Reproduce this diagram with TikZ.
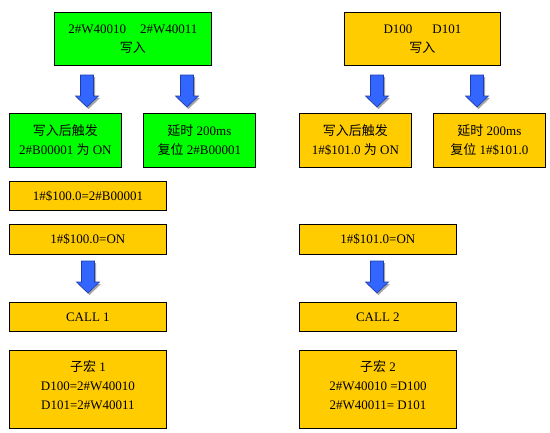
\documentclass[tikz,border=0pt]{standalone}
\usepackage{fontspec}
\setmainfont{Liberation Serif}
\newfontfamily\cjk{Noto Sans CJK SC}
\definecolor{boxgreen}{RGB}{0,255,0}
\definecolor{boxyellow}{RGB}{255,204,0}
\definecolor{arrowblue}{RGB}{51,102,255}
\definecolor{arrowedge}{RGB}{30,60,170}
\begin{document}
\begin{tikzpicture}[x=1pt,y=-1pt,
  box/.style={draw=black, line width=0.8pt, anchor=north west, inner sep=0pt,
    align=center, font=\fontsize{13}{19}\selectfont},
  gbox/.style={box, fill=boxgreen},
  ybox/.style={box, fill=boxyellow},
  barrow/.pic={
    \fill[black!35] (-5,2) -- (8,2) -- (8,23) -- (13,23) -- (1.5,34) -- (-10,23) -- (-5,23) -- cycle;
    \draw[draw=arrowedge, fill=arrowblue, line width=0.6pt]
      (-6.5,0) -- (6.5,0) -- (6.5,21) -- (11.5,21) -- (0,32) -- (-11.5,21) -- (-6.5,21) -- cycle;
  }]
\useasboundingbox (0,0) rectangle (550,432);
\fill[white] (0,0) rectangle (550,432);

% top boxes
\node[gbox, minimum width=157pt, minimum height=53pt] (A) at (54,12)
  {2\#W40010\hspace{14pt}2\#W40011\\{\cjk 写入}};
\node[ybox, minimum width=156pt, minimum height=53pt] (B) at (344,12)
  {D100\hspace{20pt}D101\\{\cjk 写入}};

% second row
\node[gbox, minimum width=112pt, minimum height=54pt] (C) at (9,113)
  {{\cjk 写入后触发}\\2\#B00001 {\cjk 为} ON};
\node[gbox, minimum width=112pt, minimum height=54pt] (D) at (143,113)
  {{\cjk 延时} 200ms\\{\cjk 复位} 2\#B00001};
\node[ybox, minimum width=112pt, minimum height=54pt] (E) at (299,113)
  {{\cjk 写入后触发}\\1\#\$101.0 {\cjk 为} ON};
\node[ybox, minimum width=112pt, minimum height=54pt] (F) at (433,113)
  {{\cjk 延时} 200ms\\{\cjk 复位} 1\#\$101.0};

% single-line boxes
\node[ybox, minimum width=157pt, minimum height=29pt] (G) at (9,181) {1\#\$100.0=2\#B00001};
\node[ybox, minimum width=157pt, minimum height=30pt] (H) at (9,224) {1\#\$100.0=ON};
\node[ybox, minimum width=157pt, minimum height=30pt] (I) at (299,224) {1\#\$101.0=ON};
\node[ybox, minimum width=157pt, minimum height=29pt] (J) at (9,302) {CALL 1};
\node[ybox, minimum width=157pt, minimum height=29pt] (K) at (299,302) {CALL 2};

% sub macro boxes
\node[ybox, minimum width=157pt, minimum height=78pt] (L) at (9,350)
  {{\cjk 子宏} 1\\D100=2\#W40010\\D101=2\#W40011\\[-10pt]};
\node[ybox, minimum width=157pt, minimum height=78pt] (M) at (299,350)
  {{\cjk 子宏} 2\\2\#W40010 =D100\\2\#W40011= D101\\[-10pt]};

% block arrows
\coordinate (a1) at (87,75);
\coordinate (a2) at (187,75);
\coordinate (a3) at (377,75);
\coordinate (a4) at (477,75);
\coordinate (a5) at (88,261);
\coordinate (a6) at (377,261);
\foreach \p in {a1,a2,a3,a4,a5,a6} \pic at (\p) {barrow};
\end{tikzpicture}
\end{document}
